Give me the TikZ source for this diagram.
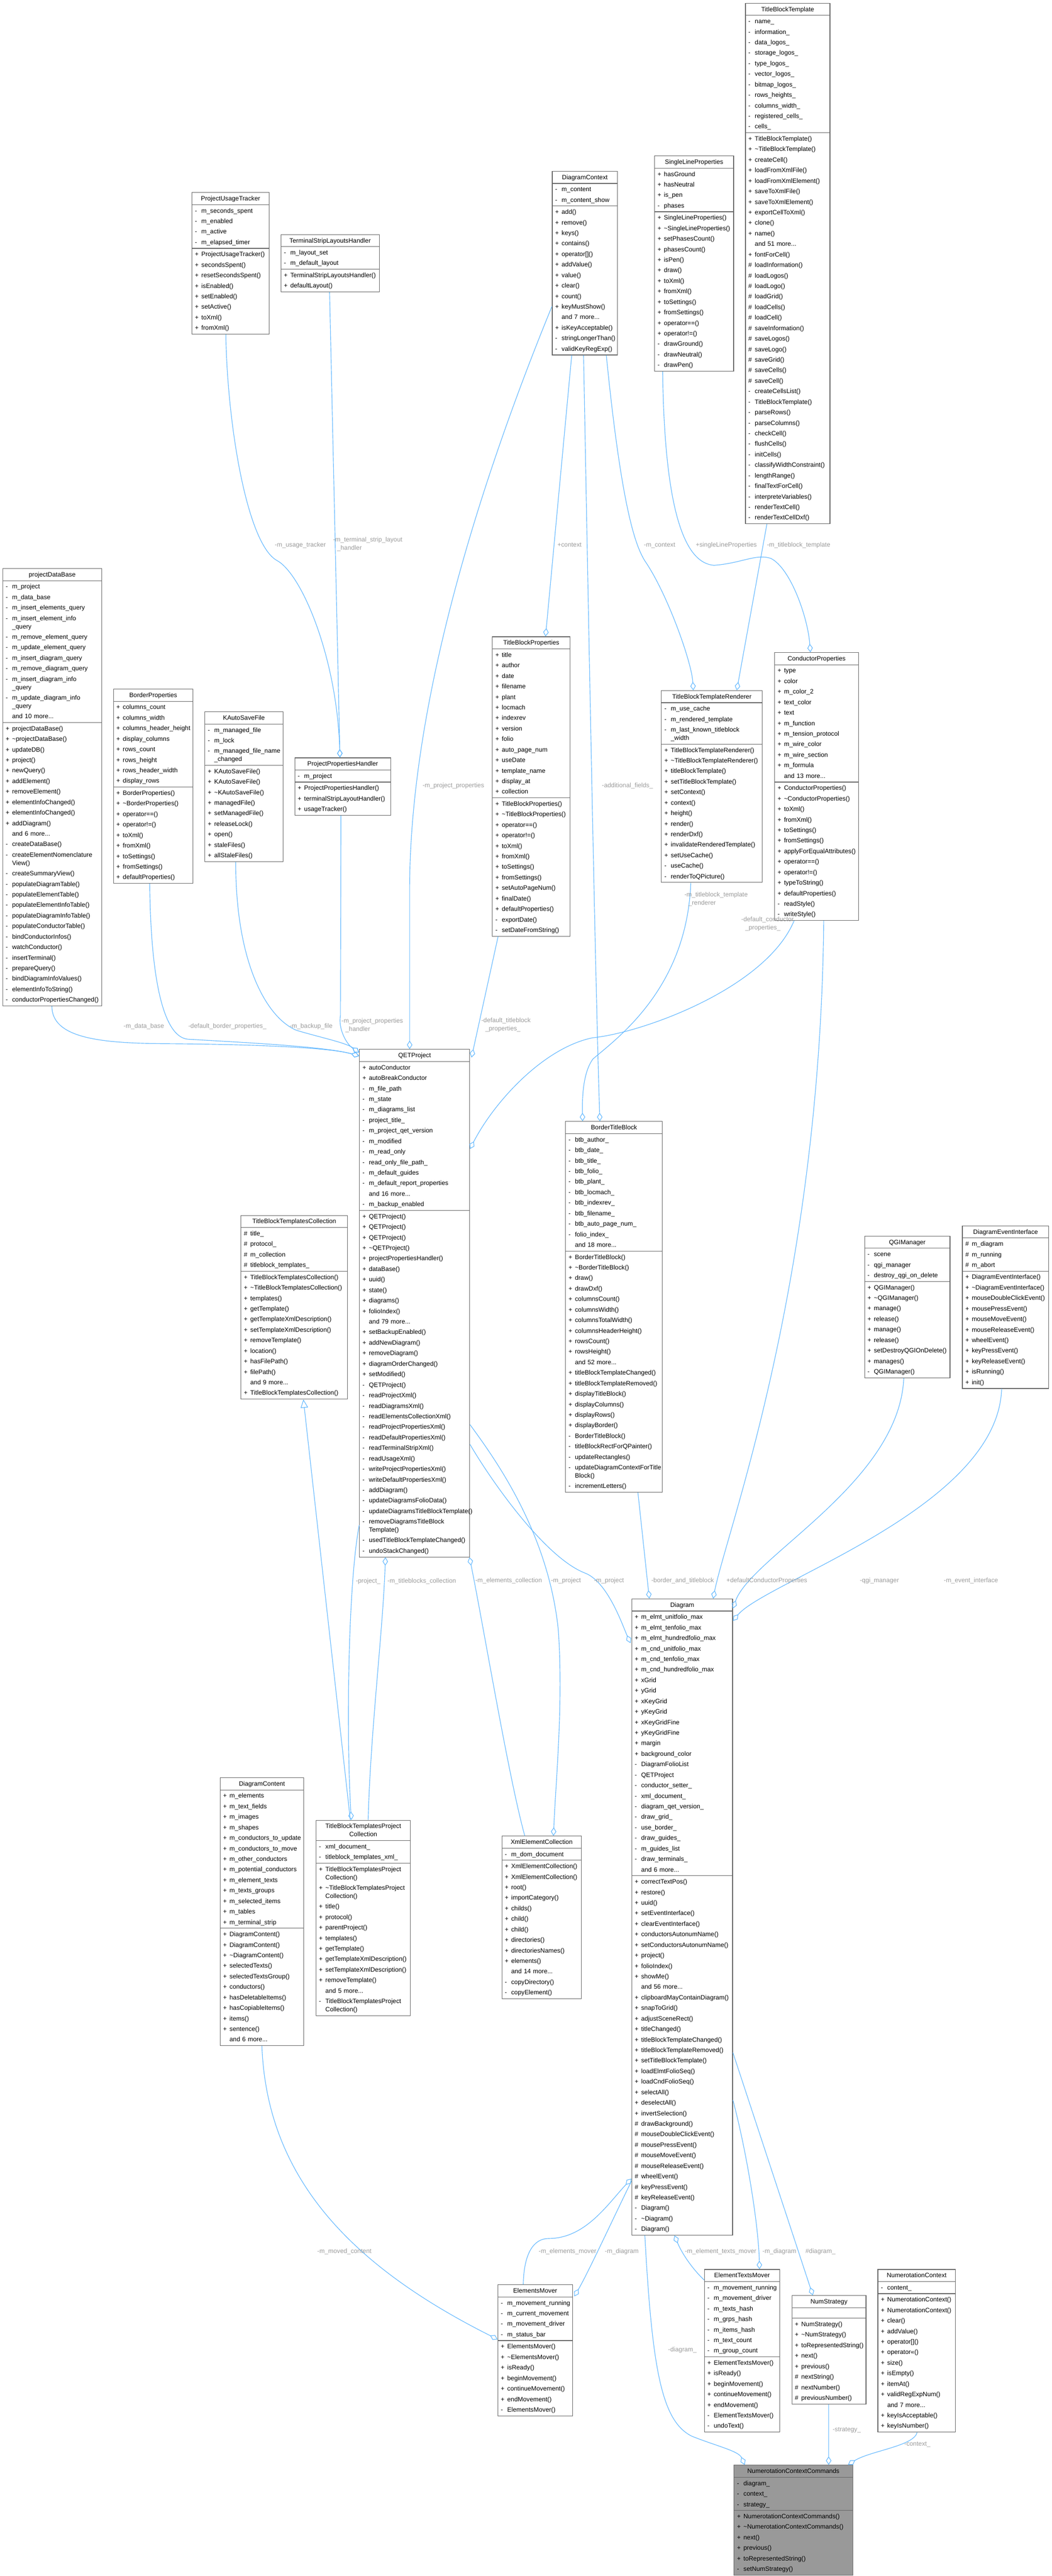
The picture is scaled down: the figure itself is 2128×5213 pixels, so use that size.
\documentclass[tikz,border=0pt]{standalone}
\usepackage{fontspec}
\setmainfont{Liberation Sans}
\usetikzlibrary{shapes.multipart,arrows.meta,calc}
\definecolor{edgeblue}{HTML}{63B8FF}
\definecolor{lblgray}{HTML}{9A9A9A}
\definecolor{boxgray}{HTML}{666666}
\definecolor{focusgray}{HTML}{999999}
% one member row: strut, visibility column, name
\newcommand{\rs}{\rule[-6.4pt]{0pt}{21.3pt}}
\newcommand{\mem}[2]{\rs\makebox[13pt][l]{#1}#2}
\newcommand{\pub}[1]{\mem{+}{#1}}
\newcommand{\pri}[1]{\mem{-}{#1}}
\newcommand{\pro}[1]{\mem{\#}{#1}}
\newcommand{\more}[1]{\rs\hspace*{13pt}#1}
\newcommand{\ttl}[1]{\rs\hfill#1\hfill\null}
\newcommand{\dt}{\textasciitilde}
\begin{document}
\begin{tikzpicture}[x=1pt, y=-1pt,
    cls/.style={rectangle split, rectangle split parts=3, draw=boxgray, line width=1.2pt, fill=white,
        anchor=north west, align=left, inner xsep=6pt, inner ysep=1pt, font=\fontsize{12.8}{21.3}\selectfont},
    edge/.style={draw=edgeblue, line width=1.2pt},
    hold/.style={-{Diamond[open, length=17pt, width=11pt]}},
    inh/.style={-{Triangle[open, length=17pt, width=15pt]}},
    lbl/.style={text=lblgray, anchor=north west, align=left, inner sep=0pt, font=\fontsize{12.8}{21.3}\selectfont}]
    \useasboundingbox (0,0) rectangle (2128,5213);

    % top row
    \node[cls, text width=159pt] (tbt) at (1508,6) {\ttl{TitleBlockTemplate}
        \nodepart{two}\pri{name\_}\\ \pri{information\_}\\ \pri{data\_logos\_}\\ \pri{storage\_logos\_}\\ \pri{type\_logos\_}\\
        \pri{vector\_logos\_}\\ \pri{bitmap\_logos\_}\\ \pri{rows\_heights\_}\\ \pri{columns\_width\_}\\ \pri{registered\_cells\_}\\ \pri{cells\_}
        \nodepart{three}\pub{TitleBlockTemplate()}\\ \pub{\dt TitleBlockTemplate()}\\ \pub{createCell()}\\ \pub{loadFromXmlFile()}\\
        \pub{loadFromXmlElement()}\\ \pub{saveToXmlFile()}\\ \pub{saveToXmlElement()}\\ \pub{exportCellToXml()}\\ \pub{clone()}\\
        \pub{name()}\\ \more{and 51 more...}\\ \pub{fontForCell()}\\ \pro{loadInformation()}\\ \pro{loadLogos()}\\ \pro{loadLogo()}\\
        \pro{loadGrid()}\\ \pro{loadCells()}\\ \pro{loadCell()}\\ \pro{saveInformation()}\\ \pro{saveLogos()}\\ \pro{saveLogo()}\\
        \pro{saveGrid()}\\ \pro{saveCells()}\\ \pro{saveCell()}\\ \pri{createCellsList()}\\ \pri{TitleBlockTemplate()}\\ \pri{parseRows()}\\
        \pri{parseColumns()}\\ \pri{checkCell()}\\ \pri{flushCells()}\\ \pri{initCells()}\\ \pri{classifyWidthConstraint()}\\
        \pri{lengthRange()}\\ \pri{finalTextForCell()}\\ \pri{interpreteVariables()}\\ \pri{renderTextCell()}\\ \pri{renderTextCellDxf()}};

    \node[cls, text width=144pt] (put) at (388,389) {\ttl{ProjectUsageTracker}
        \nodepart{two}\pri{m\_seconds\_spent}\\ \pri{m\_enabled}\\ \pri{m\_active}\\ \pri{m\_elapsed\_timer}
        \nodepart{three}\pub{ProjectUsageTracker()}\\ \pub{secondsSpent()}\\ \pub{resetSecondsSpent()}\\ \pub{isEnabled()}\\
        \pub{setEnabled()}\\ \pub{setActive()}\\ \pub{toXml()}\\ \pub{fromXml()}};

    \node[cls, text width=187pt] (tslh) at (568,474) {\ttl{TerminalStripLayoutsHandler}
        \nodepart{two}\pri{m\_layout\_set}\\ \pri{m\_default\_layout}
        \nodepart{three}\pub{TerminalStripLayoutsHandler()}\\ \pub{defaultLayout()}};

    \node[cls, text width=120pt] (dctx) at (1117,346) {\ttl{DiagramContext}
        \nodepart{two}\pri{m\_content}\\ \pri{m\_content\_show}
        \nodepart{three}\pub{add()}\\ \pub{remove()}\\ \pub{keys()}\\ \pub{contains()}\\ \pub{operator[]()}\\ \pub{addValue()}\\
        \pub{value()}\\ \pub{clear()}\\ \pub{count()}\\ \pub{keyMustShow()}\\ \more{and 7 more...}\\ \pub{isKeyAcceptable()}\\
        \pri{stringLongerThan()}\\ \pri{validKeyRegExp()}};

    \node[cls, text width=148pt] (slp) at (1324,315) {\ttl{SingleLineProperties}
        \nodepart{two}\pub{hasGround}\\ \pub{hasNeutral}\\ \pub{is\_pen}\\ \pri{phases}
        \nodepart{three}\pub{SingleLineProperties()}\\ \pub{\dt SingleLineProperties()}\\ \pub{setPhasesCount()}\\ \pub{phasesCount()}\\
        \pub{isPen()}\\ \pub{draw()}\\ \pub{toXml()}\\ \pub{fromXml()}\\ \pub{toSettings()}\\ \pub{fromSettings()}\\
        \pub{operator==()}\\ \pub{operator!=()}\\ \pri{drawGround()}\\ \pri{drawNeutral()}\\ \pri{drawPen()}};

    % second row
    \node[cls, text width=188pt] (pdb) at (5,1150) {\ttl{projectDataBase}
        \nodepart{two}\pri{m\_project}\\ \pri{m\_data\_base}\\ \pri{m\_insert\_elements\_query}\\
        \pri{m\_insert\_element\_info}\\[-4.8pt] \more{\_query}\\ \pri{m\_remove\_element\_query}\\ \pri{m\_update\_element\_query}\\
        \pri{m\_insert\_diagram\_query}\\ \pri{m\_remove\_diagram\_query}\\ \pri{m\_insert\_diagram\_info}\\[-4.8pt] \more{\_query}\\
        \pri{m\_update\_diagram\_info}\\[-4.8pt] \more{\_query}\\ \more{and 10 more...}
        \nodepart{three}\pub{projectDataBase()}\\ \pub{\dt projectDataBase()}\\ \pub{updateDB()}\\ \pub{project()}\\ \pub{newQuery()}\\
        \pub{addElement()}\\ \pub{removeElement()}\\ \pub{elementInfoChanged()}\\ \pub{elementInfoChanged()}\\ \pub{addDiagram()}\\
        \more{and 6 more...}\\ \pri{createDataBase()}\\ \pri{createElementNomenclature}\\[-4.8pt] \more{View()}\\ \pri{createSummaryView()}\\
        \pri{populateDiagramTable()}\\ \pri{populateElementTable()}\\ \pri{populateElementInfoTable()}\\ \pri{populateDiagramInfoTable()}\\
        \pri{populateConductorTable()}\\ \pri{bindConductorInfos()}\\ \pri{watchConductor()}\\ \pri{insertTerminal()}\\
        \pri{prepareQuery()}\\ \pri{bindDiagramInfoValues()}\\ \pri{elementInfoToString()}\\ \pri{conductorPropertiesChanged()}};

    \node[cls, text width=149pt] (bprop) at (229,1394) {\ttl{BorderProperties}
        \nodepart{two}\pub{columns\_count}\\ \pub{columns\_width}\\ \pub{columns\_header\_height}\\ \pub{display\_columns}\\
        \pub{rows\_count}\\ \pub{rows\_height}\\ \pub{rows\_header\_width}\\ \pub{display\_rows}
        \nodepart{three}\pub{BorderProperties()}\\ \pub{\dt BorderProperties()}\\ \pub{operator==()}\\ \pub{operator!=()}\\
        \pub{toXml()}\\ \pub{fromXml()}\\ \pub{toSettings()}\\ \pub{fromSettings()}\\ \pub{defaultProperties()}};

    \node[cls, text width=146pt] (kasf) at (414,1440) {\ttl{KAutoSaveFile}
        \nodepart{two}\pri{m\_managed\_file}\\ \pri{m\_lock}\\ \pri{m\_managed\_file\_name}\\[-4.8pt] \more{\_changed}
        \nodepart{three}\pub{KAutoSaveFile()}\\ \pub{KAutoSaveFile()}\\ \pub{\dt KAutoSaveFile()}\\ \pub{managedFile()}\\
        \pub{setManagedFile()}\\ \pub{releaseLock()}\\ \pub{open()}\\ \pub{staleFiles()}\\ \pub{allStaleFiles()}};

    \node[cls, text width=182pt] (pph) at (596,1533) {\ttl{ProjectPropertiesHandler}
        \nodepart{two}\pri{m\_project}
        \nodepart{three}\pub{ProjectPropertiesHandler()}\\ \pub{terminalStripLayoutHandler()}\\ \pub{usageTracker()}};

    \node[cls, text width=145pt] (tbprop) at (996,1288) {\ttl{TitleBlockProperties}
        \nodepart{two}\pub{title}\\ \pub{author}\\ \pub{date}\\ \pub{filename}\\ \pub{plant}\\ \pub{locmach}\\ \pub{indexrev}\\
        \pub{version}\\ \pub{folio}\\ \pub{auto\_page\_num}\\ \pub{useDate}\\ \pub{template\_name}\\ \pub{display\_at}\\ \pub{collection}
        \nodepart{three}\pub{TitleBlockProperties()}\\ \pub{\dt TitleBlockProperties()}\\ \pub{operator==()}\\ \pub{operator!=()}\\
        \pub{toXml()}\\ \pub{fromXml()}\\ \pub{toSettings()}\\ \pub{fromSettings()}\\ \pub{setAutoPageNum()}\\ \pub{finalDate()}\\
        \pub{defaultProperties()}\\ \pri{exportDate()}\\ \pri{setDateFromString()}};

    \node[cls, text width=192pt] (tbtr) at (1338,1397) {\ttl{TitleBlockTemplateRenderer}
        \nodepart{two}\pri{m\_use\_cache}\\ \pri{m\_rendered\_template}\\ \pri{m\_last\_known\_titleblock}\\[-4.8pt] \more{\_width}
        \nodepart{three}\pub{TitleBlockTemplateRenderer()}\\ \pub{\dt TitleBlockTemplateRenderer()}\\ \pub{titleBlockTemplate()}\\
        \pub{setTitleBlockTemplate()}\\ \pub{setContext()}\\ \pub{context()}\\ \pub{height()}\\ \pub{render()}\\ \pub{renderDxf()}\\
        \pub{invalidateRenderedTemplate()}\\ \pub{setUseCache()}\\ \pri{useCache()}\\ \pri{renderToQPicture()}};

    \node[cls, text width=158pt] (cprop) at (1567,1320) {\ttl{ConductorProperties}
        \nodepart{two}\pub{type}\\ \pub{color}\\ \pub{m\_color\_2}\\ \pub{text\_color}\\ \pub{text}\\ \pub{m\_function}\\
        \pub{m\_tension\_protocol}\\ \pub{m\_wire\_color}\\ \pub{m\_wire\_section}\\ \pub{m\_formula}\\ \more{and 13 more...}
        \nodepart{three}\pub{ConductorProperties()}\\ \pub{\dt ConductorProperties()}\\ \pub{toXml()}\\ \pub{fromXml()}\\
        \pub{toSettings()}\\ \pub{fromSettings()}\\ \pub{applyForEqualAttributes()}\\ \pub{operator==()}\\ \pub{operator!=()}\\
        \pub{typeToString()}\\ \pub{defaultProperties()}\\ \pri{readStyle()}\\ \pri{writeStyle()}};

    % middle
    \node[cls, text width=211pt] (qet) at (727,2123) {\ttl{QETProject}
        \nodepart{two}\pub{autoConductor}\\ \pub{autoBreakConductor}\\ \pri{m\_file\_path}\\ \pri{m\_state}\\ \pri{m\_diagrams\_list}\\
        \pri{project\_title\_}\\ \pri{m\_project\_qet\_version}\\ \pri{m\_modified}\\ \pri{m\_read\_only}\\ \pri{read\_only\_file\_path\_}\\
        \pri{m\_default\_guides}\\ \pri{m\_default\_report\_properties}\\ \more{and 16 more...}\\ \pri{m\_backup\_enabled}
        \nodepart{three}\pub{QETProject()}\\ \pub{QETProject()}\\ \pub{QETProject()}\\ \pub{\dt QETProject()}\\
        \pub{projectPropertiesHandler()}\\ \pub{dataBase()}\\ \pub{uuid()}\\ \pub{state()}\\ \pub{diagrams()}\\ \pub{folioIndex()}\\
        \more{and 79 more...}\\ \pub{setBackupEnabled()}\\ \pub{addNewDiagram()}\\ \pub{removeDiagram()}\\ \pub{diagramOrderChanged()}\\
        \pub{setModified()}\\ \pri{QETProject()}\\ \pri{readProjectXml()}\\ \pri{readDiagramsXml()}\\ \pri{readElementsCollectionXml()}\\
        \pri{readProjectPropertiesXml()}\\ \pri{readDefaultPropertiesXml()}\\ \pri{readTerminalStripXml()}\\ \pri{readUsageXml()}\\
        \pri{writeProjectPropertiesXml()}\\ \pri{writeDefaultPropertiesXml()}\\ \pri{addDiagram()}\\ \pri{updateDiagramsFolioData()}\\
        \pri{updateDiagramsTitleBlockTemplate()}\\ \pri{removeDiagramsTitleBlock}\\[-4.8pt] \more{Template()}\\
        \pri{usedTitleBlockTemplateChanged()}\\ \pri{undoStackChanged()}};

    \node[cls, text width=184pt] (btb) at (1144,2269) {\ttl{BorderTitleBlock}
        \nodepart{two}\pri{btb\_author\_}\\ \pri{btb\_date\_}\\ \pri{btb\_title\_}\\ \pri{btb\_folio\_}\\ \pri{btb\_plant\_}\\
        \pri{btb\_locmach\_}\\ \pri{btb\_indexrev\_}\\ \pri{btb\_filename\_}\\ \pri{btb\_auto\_page\_num\_}\\ \pri{folio\_index\_}\\
        \more{and 18 more...}
        \nodepart{three}\pub{BorderTitleBlock()}\\ \pub{\dt BorderTitleBlock()}\\ \pub{draw()}\\ \pub{drawDxf()}\\ \pub{columnsCount()}\\
        \pub{columnsWidth()}\\ \pub{columnsTotalWidth()}\\ \pub{columnsHeaderHeight()}\\ \pub{rowsCount()}\\ \pub{rowsHeight()}\\
        \more{and 52 more...}\\ \pub{titleBlockTemplateChanged()}\\ \pub{titleBlockTemplateRemoved()}\\ \pub{displayTitleBlock()}\\
        \pub{displayColumns()}\\ \pub{displayRows()}\\ \pub{displayBorder()}\\ \pri{BorderTitleBlock()}\\ \pri{titleBlockRectForQPainter()}\\
        \pri{updateRectangles()}\\ \pri{updateDiagramContextForTitle}\\[-4.8pt] \more{Block()}\\ \pri{incrementLetters()}};

    \node[cls, text width=204pt] (tbtc) at (487,2459) {\ttl{TitleBlockTemplatesCollection}
        \nodepart{two}\pro{title\_}\\ \pro{protocol\_}\\ \pro{m\_collection}\\ \pro{titleblock\_templates\_}
        \nodepart{three}\pub{TitleBlockTemplatesCollection()}\\ \pub{\dt TitleBlockTemplatesCollection()}\\ \pub{templates()}\\
        \pub{getTemplate()}\\ \pub{getTemplateXmlDescription()}\\ \pub{setTemplateXmlDescription()}\\ \pub{removeTemplate()}\\
        \pub{location()}\\ \pub{hasFilePath()}\\ \pub{filePath()}\\ \more{and 9 more...}\\ \pub{TitleBlockTemplatesCollection()}};

    \node[cls, text width=161pt] (qgim) at (1749,2501) {\ttl{QGIManager}
        \nodepart{two}\pri{scene}\\ \pri{qgi\_manager}\\ \pri{destroy\_qgi\_on\_delete}
        \nodepart{three}\pub{QGIManager()}\\ \pub{\dt QGIManager()}\\ \pub{manage()}\\ \pub{release()}\\ \pub{manage()}\\
        \pub{release()}\\ \pub{setDestroyQGIOnDelete()}\\ \pub{manages()}\\ \pri{QGIManager()}};

    \node[cls, text width=163pt] (dei) at (1947,2480) {\ttl{DiagramEventInterface}
        \nodepart{two}\pro{m\_diagram}\\ \pro{m\_running}\\ \pro{m\_abort}
        \nodepart{three}\pub{DiagramEventInterface()}\\ \pub{\dt DiagramEventInterface()}\\ \pub{mouseDoubleClickEvent()}\\
        \pub{mousePressEvent()}\\ \pub{mouseMoveEvent()}\\ \pub{mouseReleaseEvent()}\\ \pub{wheelEvent()}\\ \pub{keyPressEvent()}\\
        \pub{keyReleaseEvent()}\\ \pub{isRunning()}\\ \pub{init()}};

    % lower part
    \node[cls, text width=192pt] (dia) at (1278,3235) {\ttl{Diagram}
        \nodepart{two}\pub{m\_elmt\_unitfolio\_max}\\ \pub{m\_elmt\_tenfolio\_max}\\ \pub{m\_elmt\_hundredfolio\_max}\\
        \pub{m\_cnd\_unitfolio\_max}\\ \pub{m\_cnd\_tenfolio\_max}\\ \pub{m\_cnd\_hundredfolio\_max}\\ \pub{xGrid}\\ \pub{yGrid}\\
        \pub{xKeyGrid}\\ \pub{yKeyGrid}\\ \pub{xKeyGridFine}\\ \pub{yKeyGridFine}\\ \pub{margin}\\ \pub{background\_color}\\
        \pri{DiagramFolioList}\\ \pri{QETProject}\\ \pri{conductor\_setter\_}\\ \pri{xml\_document\_}\\ \pri{diagram\_qet\_version\_}\\
        \pri{draw\_grid\_}\\ \pri{use\_border\_}\\ \pri{draw\_guides\_}\\ \pri{m\_guides\_list}\\ \pri{draw\_terminals\_}\\ \more{and 6 more...}
        \nodepart{three}\pub{correctTextPos()}\\ \pub{restore()}\\ \pub{uuid()}\\ \pub{setEventInterface()}\\ \pub{clearEventInterface()}\\
        \pub{conductorsAutonumName()}\\ \pub{setConductorsAutonumName()}\\ \pub{project()}\\ \pub{folioIndex()}\\ \pub{showMe()}\\
        \more{and 56 more...}\\ \pub{clipboardMayContainDiagram()}\\ \pub{snapToGrid()}\\ \pub{adjustSceneRect()}\\ \pub{titleChanged()}\\
        \pub{titleBlockTemplateChanged()}\\ \pub{titleBlockTemplateRemoved()}\\ \pub{setTitleBlockTemplate()}\\ \pub{loadElmtFolioSeq()}\\
        \pub{loadCndFolioSeq()}\\ \pub{selectAll()}\\ \pub{deselectAll()}\\ \pub{invertSelection()}\\ \pro{drawBackground()}\\
        \pro{mouseDoubleClickEvent()}\\ \pro{mousePressEvent()}\\ \pro{mouseMoveEvent()}\\ \pro{mouseReleaseEvent()}\\ \pro{wheelEvent()}\\
        \pro{keyPressEvent()}\\ \pro{keyReleaseEvent()}\\ \pri{Diagram()}\\ \pri{\dt Diagram()}\\ \pri{Diagram()}};

    \node[cls, text width=157pt] (dcont) at (445,3597) {\ttl{DiagramContent}
        \nodepart{two}\pub{m\_elements}\\ \pub{m\_text\_fields}\\ \pub{m\_images}\\ \pub{m\_shapes}\\ \pub{m\_conductors\_to\_update}\\
        \pub{m\_conductors\_to\_move}\\ \pub{m\_other\_conductors}\\ \pub{m\_potential\_conductors}\\ \pub{m\_element\_texts}\\
        \pub{m\_texts\_groups}\\ \pub{m\_selected\_items}\\ \pub{m\_tables}\\ \pub{m\_terminal\_strip}
        \nodepart{three}\pub{DiagramContent()}\\ \pub{DiagramContent()}\\ \pub{\dt DiagramContent()}\\ \pub{selectedTexts()}\\
        \pub{selectedTextsGroup()}\\ \pub{conductors()}\\ \pub{hasDeletableItems()}\\ \pub{hasCopiableItems()}\\ \pub{items()}\\
        \pub{sentence()}\\ \more{and 6 more...}};

    \node[cls, text width=179pt] (tbtpc) at (639,3683) {\ttl{TitleBlockTemplatesProject}\\[-4.8pt] \ttl{Collection}
        \nodepart{two}\pri{xml\_document\_}\\ \pri{titleblock\_templates\_xml\_}
        \nodepart{three}\pub{TitleBlockTemplatesProject}\\[-4.8pt] \more{Collection()}\\ \pub{\dt TitleBlockTemplatesProject}\\[-4.8pt] \more{Collection()}\\
        \pub{title()}\\ \pub{protocol()}\\ \pub{parentProject()}\\ \pub{templates()}\\ \pub{getTemplate()}\\
        \pub{getTemplateXmlDescription()}\\ \pub{setTemplateXmlDescription()}\\ \pub{removeTemplate()}\\ \more{and 5 more...}\\
        \pri{TitleBlockTemplatesProject}\\[-4.8pt] \more{Collection()}};

    \node[cls, text width=149pt] (xec) at (1015,3715) {\ttl{XmlElementCollection}
        \nodepart{two}\pri{m\_dom\_document}
        \nodepart{three}\pub{XmlElementCollection()}\\ \pub{XmlElementCollection()}\\ \pub{root()}\\ \pub{importCategory()}\\
        \pub{childs()}\\ \pub{child()}\\ \pub{child()}\\ \pub{directories()}\\ \pub{directoriesNames()}\\ \pub{elements()}\\
        \more{and 14 more...}\\ \pri{copyDirectory()}\\ \pri{copyElement()}};

    % bottom row
    \node[cls, text width=139pt] (emov) at (1007,4623) {\ttl{ElementsMover}
        \nodepart{two}\pri{m\_movement\_running}\\ \pri{m\_current\_movement}\\ \pri{m\_movement\_driver}\\ \pri{m\_status\_bar}
        \nodepart{three}\pub{ElementsMover()}\\ \pub{\dt ElementsMover()}\\ \pub{isReady()}\\ \pub{beginMovement()}\\
        \pub{continueMovement()}\\ \pub{endMovement()}\\ \pri{ElementsMover()}};

    \node[cls, text width=140pt] (etmov) at (1425,4592) {\ttl{ElementTextsMover}
        \nodepart{two}\pri{m\_movement\_running}\\ \pri{m\_movement\_driver}\\ \pri{m\_texts\_hash}\\ \pri{m\_grps\_hash}\\
        \pri{m\_items\_hash}\\ \pri{m\_text\_count}\\ \pri{m\_group\_count}
        \nodepart{three}\pub{ElementTextsMover()}\\ \pub{isReady()}\\ \pub{beginMovement()}\\ \pub{continueMovement()}\\
        \pub{endMovement()}\\ \pri{ElementTextsMover()}\\ \pri{undoText()}};

    \node[cls, text width=138pt] (nstrat) at (1602,4645) {\ttl{NumStrategy}
        \nodepart{two}\rule{0pt}{18pt}
        \nodepart{three}\pub{NumStrategy()}\\ \pub{\dt NumStrategy()}\\ \pub{toRepresentedString()}\\ \pub{next()}\\ \pub{previous()}\\
        \pro{nextString()}\\ \pro{nextNumber()}\\ \pro{previousNumber()}};

    \node[cls, text width=145pt] (nctx) at (1776,4592) {\ttl{NumerotationContext}
        \nodepart{two}\pri{content\_}
        \nodepart{three}\pub{NumerotationContext()}\\ \pub{NumerotationContext()}\\ \pub{clear()}\\ \pub{addValue()}\\ \pub{operator[]()}\\
        \pub{operator<<()}\\ \pub{size()}\\ \pub{isEmpty()}\\ \pub{itemAt()}\\ \pub{validRegExpNum()}\\ \more{and 7 more...}\\
        \pub{keyIsAcceptable()}\\ \pub{keyIsNumber()}};

    \node[cls, text width=228pt, fill=focusgray] (ncc) at (1485,4988) {\ttl{NumerotationContextCommands}
        \nodepart{two}\pri{diagram\_}\\ \pri{context\_}\\ \pri{strategy\_}
        \nodepart{three}\pub{NumerotationContextCommands()}\\ \pub{\dt NumerotationContextCommands()}\\ \pub{next()}\\ \pub{previous()}\\
        \pub{toRepresentedString()}\\ \pri{setNumStrategy()}};

    % connectors into ProjectPropertiesHandler
    \draw[edge,hold] ($(put.south west)+(69,0)$) .. controls (460,860) and (500,1100) .. (560,1134)
        .. controls (610,1160) and (682,1330) .. ($(pph.north west)+(92,0)$);
    \draw[edge,hold] ($(tslh.south west)+(99,0)$) -- ($(pph.north west)+(92,0)$);
    \node[lbl] at (556,1092) {\rs-m\_usage\_tracker};
    \node[lbl] at (674,1081) {\rs-m\_terminal\_strip\_layout\\[-4.8pt]\rs\hspace*{8pt}\_handler};

    % connectors into QETProject
    \draw[edge,hold] ($(pph.south west)+(94,0)$) -- (689,2055) .. controls (684,2080) and (700,2112) .. ($(qet.north west)+(0,7)$);
    \draw[edge,hold] ($(pdb.south west)+(100,0)$) .. controls (105,2100) and (200,2111) .. (330,2112)
        .. controls (480,2113) and (660,2118) .. ($(qet.north west)+(0,14)$);
    \draw[edge,hold] ($(bprop.south west)+(74,0)$) .. controls (305,1980) and (330,2098) .. (380,2103)
        .. controls (500,2110) and (660,2118) .. ($(qet.north west)+(0,14)$);
    \draw[edge,hold] ($(kasf.south west)+(63,0)$) .. controls (477,1950) and (540,2060) .. (600,2085)
        .. controls (650,2100) and (700,2110) .. ($(qet.north west)+(0,7)$);
    \draw[edge,hold] ($(tbprop.south west)+(12,0)$) -- ($(qet.north east)+(3,17)$);
    \draw[edge,hold] ($(dctx.north west)+(0,274)$) .. controls (990,930) and (829,1400) .. (829,1800) -- ($(qet.north west)+(102,0)$);
    \draw[edge,hold] ($(cprop.south west)+(40,0)$) .. controls (1550,2000) and (1300,2090) .. (1200,2100)
        .. controls (1100,2120) and (1000,2230) .. ($(qet.north east)+(0,202)$);
    \draw[edge,hold] ($(xec.north west)+(47,0)$) .. controls (1030,3600) and (980,3300) .. ($(qet.south east)+(-1,0)$);
    \draw[edge,hold] ($(tbtpc.north west)+(106,0)$) .. controls (750,3500) and (775,3300) .. ($(qet.south west)+(53,0)$);
    \node[lbl] at (250,2065) {\rs-m\_data\_base};
    \node[lbl] at (381,2065) {\rs-default\_border\_properties\_};
    \node[lbl] at (586,2065) {\rs-m\_backup\_file};
    \node[lbl] at (691,2055) {\rs-m\_project\_properties\\[-4.8pt]\rs\hspace*{8pt}\_handler};
    \node[lbl] at (974,2054) {\rs-default\_titleblock\\[-4.8pt]\rs\hspace*{8pt}\_properties\_};
    \node[lbl] at (855,1578) {\rs-m\_project\_properties};
    \node[lbl] at (1500,1850) {\rs-default\_conductor\\[-4.8pt]\rs\hspace*{8pt}\_properties\_};
    \node[lbl] at (962,3187) {\rs-m\_elements\_collection};
    \node[lbl] at (784,3188) {\rs-m\_titleblocks\_collection};

    % DiagramContext, SingleLineProperties, TitleBlockTemplate
    \draw[edge,hold] ($(dctx.south west)+(40,0)$) -- ($(tbprop.north west)+(108,0)$);
    \draw[edge,hold] ($(dctx.south west)+(64,0)$) .. controls (1190,1200) and (1205,2000) .. ($(btb.north west)+(70,0)$);
    \draw[edge,hold] ($(dctx.south west)+(110,0)$) .. controls (1260,1050) and (1290,1110) .. (1305,1135)
        .. controls (1350,1200) and (1400,1340) .. ($(tbtr.north west)+(65,0)$);
    \draw[edge,hold] ($(slp.south west)+(17,0)$) .. controls (1345,1050) and (1390,1140) .. (1445,1144)
        .. controls (1500,1140) and (1530,1120) .. (1560,1130) .. controls (1600,1150) and (1635,1250) .. ($(cprop.north west)+(73,0)$);
    \draw[edge,hold] ($(tbt.south west)+(44,0)$) -- ($(tbtr.north west)+(153,0)$);
    \node[lbl] at (1128,1092) {\rs+context};
    \node[lbl] at (1303,1092) {\rs-m\_context};
    \node[lbl] at (1408,1092) {\rs+singleLineProperties};
    \node[lbl] at (1552,1092) {\rs-m\_titleblock\_template};
    \node[lbl] at (1218,1578) {\rs-additional\_fields\_};

    % into BorderTitleBlock and Diagram
    \draw[edge,hold] ($(tbtr.south west)+(60,0)$) .. controls (1390,2000) and (1250,2100) .. (1200,2143)
        .. controls (1180,2170) and (1178,2220) .. ($(btb.north west)+(35,0)$);
    \node[lbl] at (1385,1800) {\rs-m\_titleblock\_template\\[-4.8pt]\rs\hspace*{8pt}\_renderer};
    \draw[edge,hold] ($(btb.south west)+(147,0)$) -- ($(dia.north west)+(36,0)$);
    \draw[edge,hold] ($(cprop.south west)+(100,0)$) .. controls (1660,2600) and (1470,3100) .. ($(dia.north east)+(-40,0)$);
    \draw[edge,hold] ($(qgim.south west)+(80,0)$) .. controls (1820,3000) and (1520,3150) .. ($(dia.north east)+(0,20)$);
    \draw[edge,hold] ($(dei.south west)+(80,0)$) .. controls (2020,3050) and (1550,3200) .. ($(dia.north east)+(0,45)$);
    \draw[edge,hold] ($(qet.north east)+(0,800)$) .. controls (990,2990) and (1100,3150) .. (1183,3183)
        .. controls (1230,3200) and (1260,3290) .. ($(dia.north west)+(-2,90)$);
    \draw[edge,hold] ($(qet.north east)+(0,760)$) .. controls (1000,2950) and (1110,3100) .. (1130,3300)
        .. controls (1140,3450) and (1125,3600) .. ($(xec.north west)+(105,0)$);
    \draw[edge,hold] ($(qet.south west)+(0,-65)$) .. controls (705,3200) and (700,3500) .. ($(tbtpc.north west)+(72,0)$);
    \draw[edge,inh] ($(tbtpc.north west)+(70,0)$) -- ($(tbtc.south west)+(127,0)$);
    \node[lbl] at (1115,3187) {\rs-m\_project};
    \node[lbl] at (1202,3187) {\rs-m\_project};
    \node[lbl] at (1318,3187) {\rs-border\_and\_titleblock};
    \node[lbl] at (1470,3187) {\rs+defaultConductorProperties};
    \node[lbl] at (1740,3187) {\rs-qgi\_manager};
    \node[lbl] at (1910,3187) {\rs-m\_event\_interface};
    \node[lbl] at (720,3188) {\rs-project\_};

    % around the movers
    \draw[edge,hold] ($(emov.north west)+(52,0)$) .. controls (1060,4560) and (1080,4530) .. (1110,4530)
        .. controls (1185,4530) and (1230,4460) .. ($(dia.south west)+(0,-115)$);
    \draw[edge,hold] ($(dia.south west)+(0,-110)$) .. controls (1250,4470) and (1190,4600) .. ($(emov.north east)+(3,24)$);
    \draw[edge,hold] ($(etmov.north west)+(0,22)$) .. controls (1400,4590) and (1380,4560) .. ($(dia.south west)+(87,0)$);
    \draw[edge,hold] ($(dia.south east)+(0,-274)$) .. controls (1510,4350) and (1535,4500) .. ($(etmov.north west)+(112,0)$);
    \draw[edge,hold] ($(dia.south east)+(0,-370)$) -- ($(nstrat.north west)+(43,0)$);
    \draw[edge,hold] ($(dcont.south west)+(85,0)$) .. controls (540,4400) and (700,4580) .. ($(emov.north west)+(0,111)$);
    \draw[edge,hold] ($(dia.south west)+(27,0)$) .. controls (1320,4800) and (1340,4900) .. (1400,4930)
        .. controls (1450,4950) and (1495,4960) .. ($(ncc.north west)+(22,0)$);
    \draw[edge,hold] ($(nstrat.south west)+(75,0)$) -- ($(ncc.north west)+(192,0)$);
    \draw[edge,hold] ($(nctx.south west)+(80,0)$) .. controls (1850,4950) and (1760,4960) .. ($(ncc.north east)+(-10,0)$);
    \node[lbl] at (642,4545) {\rs-m\_moved\_content};
    \node[lbl] at (1090,4545) {\rs-m\_elements\_mover};
    \node[lbl] at (1224,4545) {\rs-m\_diagram};
    \node[lbl] at (1386,4545) {\rs-m\_element\_texts\_mover};
    \node[lbl] at (1543,4545) {\rs-m\_diagram};
    \node[lbl] at (1630,4545) {\rs\#diagram\_};
    \node[lbl] at (1352,4744) {\rs-diagram\_};
    \node[lbl] at (1685,4905) {\rs-strategy\_};
    \node[lbl] at (1830,4935) {\rs-context\_};
\end{tikzpicture}
\end{document}
